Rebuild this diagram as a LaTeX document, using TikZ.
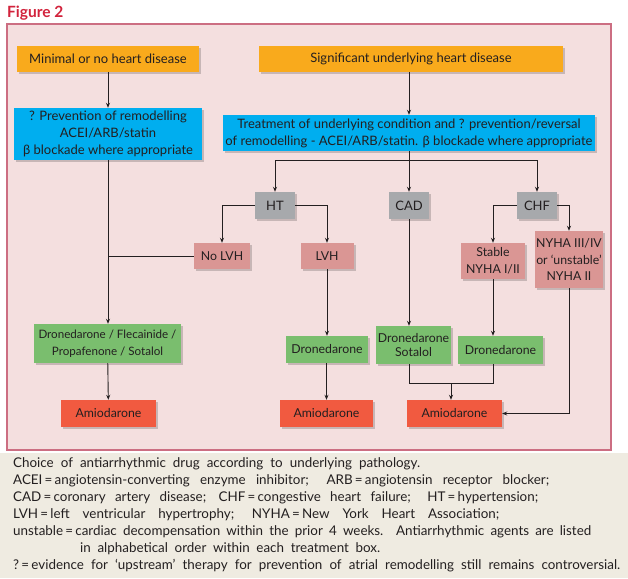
\documentclass[tikz,border=0pt]{standalone}
\usepackage{fontspec}
\setmainfont{Lato}
\usetikzlibrary{arrows.meta,shadows,calc}
\definecolor{cOrange}{RGB}{249,170,28}
\definecolor{cCyan}{RGB}{0,174,239}
\definecolor{cGray}{RGB}{167,169,172}
\definecolor{cRose}{RGB}{218,150,148}
\definecolor{cGreen}{RGB}{122,190,110}
\definecolor{cRed}{RGB}{241,90,64}
\definecolor{cPink}{RGB}{244,223,223}
\definecolor{cBorder}{RGB}{204,110,130}
\definecolor{cBeige}{RGB}{239,235,225}
\definecolor{cTitle}{RGB}{210,35,60}
\definecolor{cText}{RGB}{35,31,32}
\newcommand\boxfont{\fontsize{13}{17}\selectfont}
\newcommand\drugfont{\fontsize{12.3}{17}\selectfont}
\newcommand\capfont{\fontsize{13.4}{17}\selectfont}
\newcommand\capl[2]{\setbox0\hbox{#2}\ifdim\wd0<#1\makebox[#1][s]{#2}\else\box0\fi}
\begin{document}
\begin{tikzpicture}[x=1pt,y=-1pt,
  box/.style={inner sep=0pt, text=cText, align=center,
    drop shadow={shadow xshift=2pt,shadow yshift=-2pt,opacity=.18,fill=black}},
  conn/.style={draw=cText, line width=0.9pt},
  arr/.style={conn, -{Stealth[length=5pt,width=4pt]}},
  capline/.style={anchor=west, inner sep=0pt, text=cText, font=\capfont}]
\useasboundingbox (0,0) rectangle (628,578);
% backgrounds
\fill[white] (0,0) rectangle (628,578);
\fill[cBeige] (0,453) rectangle (628,578);
\draw[cBorder, fill=cPink, line width=1.2pt] (7,24) rectangle (611,450);
\node[anchor=west, inner sep=0pt, text=cTitle, font=\fontsize{15.5}{18}\selectfont\bfseries] (title) at (7,13) {Figure 2};
% top nodes
\node[box, fill=cOrange, minimum width=182pt, minimum height=26pt, font=\boxfont] (min) at (108,59) {Minimal or no heart disease};
\node[box, fill=cOrange, minimum width=304pt, minimum height=26pt, font=\boxfont] (sig) at (411,59) {Significant underlying heart disease};
\node[box, fill=cCyan, minimum width=188pt, minimum height=52pt, font=\boxfont] (prev) at (108,134) {? Prevention of remodelling\\ACEI/ARB/statin\\β blockade where appropriate};
\node[box, fill=cCyan, minimum width=372pt, minimum height=36pt, font=\boxfont] (treat) at (409,133) {Treatment of underlying condition and ? prevention/reversal\\of remodelling - ACEI/ARB/statin. β blockade where appropriate};
% conditions
\node[box, fill=cGray, minimum width=40pt, minimum height=27pt, font=\boxfont] (ht) at (275,205.5) {HT};
\node[box, fill=cGray, minimum width=40pt, minimum height=27pt, font=\boxfont] (cad) at (409,205.5) {CAD};
\node[box, fill=cGray, minimum width=40pt, minimum height=27pt, font=\boxfont] (chf) at (537,205.5) {CHF};
\node[box, fill=cRose, minimum width=56pt, minimum height=26pt, font=\drugfont] (nolvh) at (222,256) {No LVH};
\node[box, fill=cRose, minimum width=53pt, minimum height=26pt, font=\drugfont] (lvh) at (327,256) {LVH};
\node[box, fill=cRose, minimum width=64pt, minimum height=36pt, font=\drugfont] (stable) at (493,261) {Stable\\NYHA I/II};
\node[box, fill=cRose, minimum width=68pt, minimum height=57pt, font=\fontsize{12.3}{16.5}\selectfont] (nyha) at (569,259.5) {NYHA III/IV\\or ‘unstable’\\NYHA II};
% drugs
\node[box, fill=cGreen, minimum width=147pt, minimum height=39pt, font=\fontsize{11.6}{17}\selectfont] (g1) at (107.5,343.5) {Dronedarone / Flecainide /\\Propafenone / Sotalol};
\node[box, fill=cGreen, minimum width=82pt, minimum height=27pt, font=\drugfont] (g2) at (327,349.5) {Dronedarone};
\node[box, fill=cGreen, minimum width=75pt, minimum height=38pt, font=\fontsize{12.3}{14.5}\selectfont] (g3) at (413.5,345) {Dronedarone\\Sotalol};
\node[box, fill=cGreen, minimum width=85pt, minimum height=28pt, font=\drugfont] (g4) at (500.5,350) {Dronedarone};
\node[box, fill=cRed, minimum width=95pt, minimum height=27pt, font=\drugfont] (a1) at (108.5,413.5) {Amiodarone};
\node[box, fill=cRed, minimum width=93pt, minimum height=27pt, font=\drugfont] (a2) at (326.5,413.5) {Amiodarone};
\node[box, fill=cRed, minimum width=95pt, minimum height=27pt, font=\drugfont] (a3) at (454.5,413.5) {Amiodarone};
% connectors
\draw[arr] (min) -- (prev);
\draw[arr] (treat.north |- sig.south) -- (treat.north);
\coordinate (busL) at (ht.north |- 0,160);
\coordinate (busR) at (chf.north |- 0,160);
\draw[conn] (busL) -- (busR);
\draw[arr] (busL) -- (ht.north);
\draw[arr] (busR) -- (chf.north);
\draw[arr] (treat.south -| cad.north) -- (cad.north);
\draw[arr] (ht.west) -| (nolvh.north);
\draw[arr] (ht.east) -| (lvh.north);
\draw[arr] (chf.west) -| (stable.north);
\draw[arr] (chf.east) -| (nyha.north);
\draw[arr] (prev.south) -- (g1.north -| prev.south);
\draw[conn] (nolvh.west) -- (nolvh.west -| prev.south);
\draw[arr] (g1) -- (a1);
\draw[arr] (lvh.south) -- (lvh.south |- g2.north);
\draw[arr] (g2.south -| a2.north) -- (a2.north);
\draw[arr] (cad.south) -- (cad.south |- g3.north);
\draw[arr] (stable.south) -- (stable.south |- g4.north);
\coordinate (mrg) at (451,383);
\draw[conn] (cad.south |- g3.south) -- (cad.south |- mrg) -- (stable.south |- mrg) -- (stable.south |- g4.south);
\draw[arr] (mrg) -- (mrg |- a3.north);
\draw[arr] (nyha.south) -- (nyha.south |- a3.east) -- (a3.east);
% caption
\node[capline] (cap1) at (13,464) {\capl{407pt}{Choice of antiarrhythmic drug according to underlying pathology.}};
\node[capline] (cap2) at (13,481) {\capl{536pt}{ACEI\,=\,angiotensin-converting enzyme inhibitor;\hspace{4pt} ARB\,=\,angiotensin receptor blocker;}};
\node[capline] (cap3) at (13,498) {\capl{525pt}{CAD\,=\,coronary artery disease; CHF\,=\,congestive heart failure;\hspace{4pt} HT\,=\,hypertension;}};
\node[capline] (cap4) at (13,515) {\capl{486pt}{LVH\,=\,left ventricular hypertrophy; NYHA\,=\,New York Heart Association;}};
\node[capline] (cap5) at (13,532) {\capl{578pt}{unstable\,=\,cardiac decompensation within the prior 4 weeks. Antiarrhythmic agents are listed}};
\node[capline] (cap6) at (80,549) {\capl{300pt}{in alphabetical order within each treatment box.}};
\node[capline] (cap7) at (13,566) {\capl{607pt}{?\,=\,evidence for ‘upstream’ therapy for prevention of atrial remodelling still remains controversial.}};
\end{tikzpicture}
\end{document}
